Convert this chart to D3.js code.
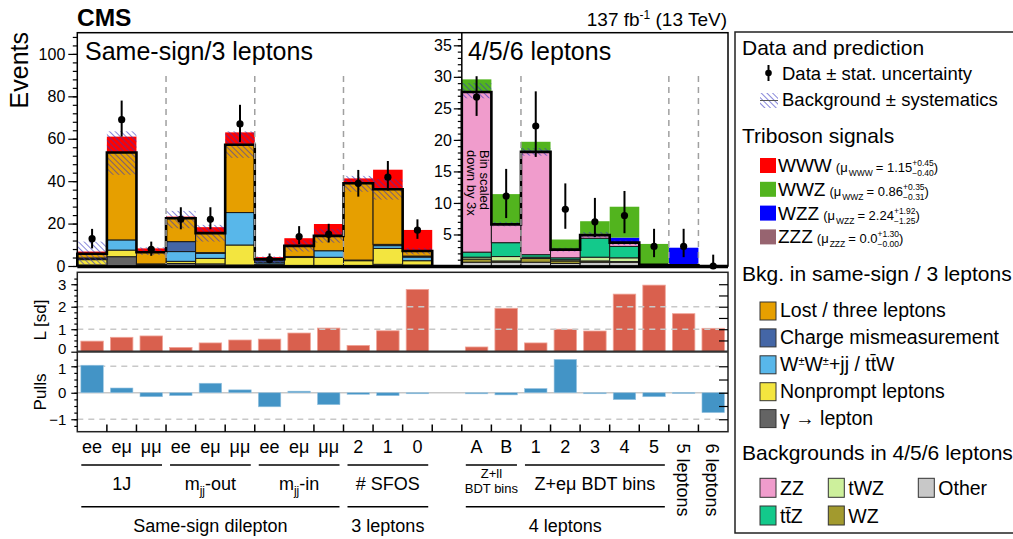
<!DOCTYPE html>
<html lang="en">
<head>
<meta charset="UTF-8" />
<title>Triboson yields</title>
<script src="https://d3js.org/d3.v7.min.js"></script>
<style>
  body { margin: 0; background: #fff; }
  svg { font-family: "Liberation Sans", Arial, Helvetica, sans-serif; }
  .tick text { fill: #000; }
  .tick line { stroke: #000; stroke-width: 1.2; }
</style>
</head>
<body>
<svg id="chart" width="1013" height="539"></svg>
<script>
// 22 bins: 12 same-sign/3l, 1 empty spacer, 9 for 4/5/6 leptons
const binLabels = ["ee","eμ","μμ","ee","eμ","μμ","ee","eμ","μμ","2","1","0","","A","B","1","2","3","4","5","",""];

// backgrounds, same-sign / 3 leptons
const gamma     = [0.5,4.4,0.2,1.2,1.0,0.5,0.5,0.3,0.3,0.3,0.8,0.5, 0, 0,0,0,0,0,0,0,0,0];
const nonprompt = [2.5,3.1,0.5,1.0,2.6,9.4,0.5,3.7,3.8,2.2,7.5,2.0, 0, 0,0,0,0,0,0,0,0,0];
const wwttw     = [0.3,4.8,0.3,4.6,2.4,15.3,0.8,0.3,3.1,0.3,1.3,1.7, 0, 0,0,0,0,0,0,0,0,0];
const chargeMis = [0.5,0,0,4.7,0.3,0,1.0,0.2,0,0,0.6,0.5, 0, 0,0,0,0,0,0,0,0,0];
const lostLep   = [2.0,41.2,5.5,11.0,9.2,32.0,0.4,5.0,7.0,36.2,26.0,2.4, 0, 0,0,0,0,0,0,0,0,0];
// backgrounds, 4/5/6 leptons
const other = [0,0,0,0,0,0,0,0,0,0,0,0, 0, 0.6,0.6,0.6,0.4,0.6,0.6,0.1,0.05,0];
const wz    = [0,0,0,0,0,0,0,0,0,0,0,0, 0, 0.5,0.2,0.6,0.4,0.2,0.1,0,0,0];
const twz   = [0,0,0,0,0,0,0,0,0,0,0,0, 0, 0.3,0.7,0.2,0.2,0.6,0.6,0,0,0];
const ttz   = [0,0,0,0,0,0,0,0,0,0,0,0, 0, 0.8,2.2,0.4,0.3,3.0,1.8,0.05,0.05,0];
const zz    = [0,0,0,0,0,0,0,0,0,0,0,0, 0, 25.4,2.9,16.3,1.3,0.5,0.6,0.05,0,0];
// signals
const zzz = [0,0,0,0,0,0,0,0,0,0,0,0, 0, 0,0,0,0,0,0,0,0,0];
const wzz = [0,0,0,0,0,0,0,0,0,0,0,0, 0, 0,0,0.2,0,0.2,0.8,0,2.8,0];
const wwz = [0,0,0,0,0,0,0,0,0,0,0,0, 0, 2.0,4.8,1.4,1.6,2.0,4.9,3.3,0,0];
const www = [1.0,7.5,1.8,0.8,2.8,5.8,1.0,3.6,5.6,2.3,9.2,9.9, 0, 0,0,0,0,0,0,0,0,0];

// background systematic band
const bandLo = [0.5,43,5.2,17.8,11.5,51,1.5,6.8,11,35,31.3,5.5, null, 26.6,6.3,17.5,2.3,4.5,3.3,0,0,0];
const bandHi = [11.5,63.5,8.8,26,19.4,63.5,4.5,12,17.5,42.5,41,8.5, null, 29.0,7.0,18.7,2.9,5.4,4.1,0.3,0.2,0];

// data with stat. errors
const dataVal = [12.9,69,7.9,22,22,67,3.0,13.9,15,39,41.9,16.9, null, 26.8,11.1,22.2,9.0,7.0,8.0,3.1,3.1,0];
const dataHi  = [17.5,78,11.5,27.7,27.7,76,5.9,18.8,19.9,45.3,49.5,22, null, 30.1,15.4,27.7,13.1,10.8,11.9,5.9,5.9,1.8];
const dataLo  = [8.3,61,4.8,17.3,17.3,58.5,1.4,10.3,11.1,32.7,35.6,12.8, null, 23.8,7.6,17.3,5.9,4.6,5.2,1.4,1.4,0];

// local significance and pulls
const signif = [0.47,0.64,0.70,0.19,0.39,0.52,0.56,0.83,1.05,0.28,0.93,2.77, null, 0.21,1.93,0.39,1.0,0.92,2.56,2.96,1.69,1.04];
const pulls  = [1.04,0.18,-0.15,-0.11,0.36,0.11,-0.53,0.06,-0.45,-0.06,-0.11,-0.01, null, -0.04,-0.08,0.16,1.26,-0.02,-0.26,-0.15,0.01,-0.75];

const stackKeys = ["gamma","nonprompt","wwttw","chargeMis","lostLep","other","wz","twz","ttz","zz","zzz","wzz","wwz","www"];
const bkgKeys = stackKeys.slice(0, 10);
const series = {gamma, nonprompt, wwttw, chargeMis, lostLep, other, wz, twz, ttz, zz, zzz, wzz, wwz, www};
const colors = {
  gamma: "#646464", nonprompt: "#f3e53f", wwttw: "#58b7ea", chargeMis: "#4466a6", lostLep: "#e69f00",
  other: "#c8c8c8", wz: "#a29a2e", twz: "#cdf09c", ttz: "#13c98b", zz: "#f09ccc",
  zzz: "#976470", wzz: "#0000ff", wwz: "#52b41e", www: "#ff0000"
};

const svg = d3.select("#chart");
const defs = svg.append("defs");
const hatch = defs.append("pattern").attr("id", "hatch")
  .attr("patternUnits", "userSpaceOnUse").attr("width", 4).attr("height", 4)
  .attr("patternTransform", "rotate(-45)");
hatch.append("line").attr("x1", 0).attr("y1", 0).attr("x2", 0).attr("y2", 4)
  .attr("stroke", "#3535c0").attr("stroke-width", 1.6).attr("stroke-opacity", 0.75);

const left = 77.3, right = 728, split = 13;
const x = d3.scaleBand().domain(d3.range(22)).range([left, right]);
const bw = x.bandwidth();
const xMid = x(split);
const yL = d3.scaleLinear().domain([0, 110]).range([266, 32.7]);
const yR = d3.scaleLinear().domain([0, 37]).range([266, 32.7]);
const yS = d3.scaleLinear().domain([0, 3.53]).range([351.7, 272.3]);
const yP = d3.scaleLinear().domain([-1.47, 1.55]).range([431.7, 351.7]);
const yOf = i => i < split ? yL : yR;
const edge = i => i < 22 ? x(i) : right;

// ---- top panels: stacks ----
const rows = d3.range(22).map(i => {
  const r = {};
  stackKeys.forEach(k => r[k] = series[k][i]);
  return r;
});
const stacked = d3.stack().keys(stackKeys)(rows);
const gStack = svg.append("g");
stacked.forEach(s => {
  const isBkg = bkgKeys.includes(s.key);
  s.forEach((d, i) => {
    if (d[1] - d[0] <= 0) return;
    const y = yOf(i);
    gStack.append("rect")
      .attr("x", x(i)).attr("width", bw)
      .attr("y", y(d[1])).attr("height", y(d[0]) - y(d[1]))
      .attr("fill", colors[s.key])
      .attr("stroke", isBkg ? "#1a1a1a" : "none")
      .attr("stroke-width", 1);
  });
});

// systematic band
d3.range(22).forEach(i => {
  if (bandLo[i] == null || bandHi[i] - bandLo[i] <= 0) return;
  const y = yOf(i);
  svg.append("rect").attr("x", x(i)).attr("width", bw)
    .attr("y", y(bandHi[i])).attr("height", y(bandLo[i]) - y(bandHi[i]))
    .attr("fill", "url(#hatch)");
});

// total background outline
const bkgTotal = d3.range(22).map(i => d3.sum(bkgKeys, k => series[k][i]));
[[0, split], [split, 22]].forEach(([a, b]) => {
  const y = yOf(a);
  const p = d3.path();
  p.moveTo(edge(a), y(0));
  for (let i = a; i < b; i++) {
    p.lineTo(edge(i), y(bkgTotal[i]));
    p.lineTo(edge(i + 1), y(bkgTotal[i]));
  }
  p.lineTo(edge(b), y(0));
  svg.append("path").attr("d", p.toString()).attr("fill", "none")
    .attr("stroke", "#000").attr("stroke-width", 2.6);
});

// category separators
[3, 6, 9, 15, 20, 21].forEach(i => {
  svg.append("line").attr("x1", x(i)).attr("x2", x(i)).attr("y1", 76).attr("y2", 264)
    .attr("stroke", "#a0a0a0").attr("stroke-width", 1.5).attr("stroke-dasharray", "6,5");
});

// data points
d3.range(22).forEach(i => {
  if (dataVal[i] == null) return;
  const y = yOf(i), cx = x(i) + bw / 2;
  svg.append("line").attr("x1", cx).attr("x2", cx)
    .attr("y1", y(dataHi[i])).attr("y2", y(dataLo[i]))
    .attr("stroke", "#000").attr("stroke-width", 2);
  svg.append("circle").attr("cx", cx).attr("cy", y(dataVal[i])).attr("r", 3.6).attr("fill", "#000");
});

// frames and axes, top
svg.append("rect").attr("x", left).attr("y", 32.7).attr("width", right - left).attr("height", 266 - 32.7)
  .attr("fill", "none").attr("stroke", "#000").attr("stroke-width", 1.5);
svg.append("line").attr("x1", xMid).attr("x2", xMid).attr("y1", 32.7).attr("y2", 266)
  .attr("stroke", "#000").attr("stroke-width", 1.5);
svg.append("line").attr("x1", left).attr("x2", right).attr("y1", 267).attr("y2", 267)
  .attr("stroke", "#000").attr("stroke-width", 2.5);

function axis(g, a) { g.call(a); g.select(".domain").remove(); return g; }
const intFmt = d3.format("d");
axis(svg.append("g").attr("transform", `translate(${left},0)`),
  d3.axisLeft(yL).tickValues(d3.range(0, 101, 20)).tickSize(9).tickPadding(3).tickFormat(intFmt))
  .selectAll("text").style("font-size", "16px");
axis(svg.append("g").attr("transform", `translate(${left},0)`),
  d3.axisLeft(yL).tickValues(d3.range(0, 110, 4)).tickSize(4.5).tickFormat(""));
axis(svg.append("g").attr("transform", `translate(${xMid},0)`),
  d3.axisLeft(yR).tickValues(d3.range(5, 36, 5)).tickSize(8).tickPadding(2).tickFormat(intFmt))
  .selectAll("text").style("font-size", "16px");
axis(svg.append("g").attr("transform", `translate(${xMid},0)`),
  d3.axisLeft(yR).tickValues(d3.range(1, 37, 1)).tickSize(4).tickFormat(""));

// ---- lower panels ----
const barW = bw * 0.76;
d3.range(22).forEach(i => {
  if (signif[i] == null) return;
  svg.append("rect").attr("x", x(i) + (bw - barW) / 2).attr("width", barW)
    .attr("y", yS(signif[i])).attr("height", yS(0) - yS(signif[i]))
    .attr("fill", "#d9604e").attr("stroke", "#f0a498").attr("stroke-width", 0.8);
});
[1, 2].forEach(v => svg.append("line").attr("x1", left).attr("x2", right - 9)
  .attr("y1", yS(v)).attr("y2", yS(v)).attr("stroke", "#c8c8c8").attr("stroke-width", 1.5).attr("stroke-dasharray", "6,5"));
[-1, 1].forEach(v => svg.append("line").attr("x1", left).attr("x2", right - 9)
  .attr("y1", yP(v)).attr("y2", yP(v)).attr("stroke", "#c8c8c8").attr("stroke-width", 1.5).attr("stroke-dasharray", "6,5"));
svg.append("line").attr("x1", left).attr("x2", right).attr("y1", yP(0)).attr("y2", yP(0))
  .attr("stroke", "#c8c8c8").attr("stroke-width", 1.5);
d3.range(22).forEach(i => {
  if (pulls[i] == null) return;
  const y0 = yP(Math.max(0, pulls[i])), y1 = yP(Math.min(0, pulls[i]));
  svg.append("rect").attr("x", x(i) + (bw - barW) / 2).attr("width", barW)
    .attr("y", y0).attr("height", Math.max(1, y1 - y0))
    .attr("fill", "#4394c6").attr("stroke", "#9cc6e2").attr("stroke-width", 0.6);
});
svg.append("rect").attr("x", left).attr("y", 272.3).attr("width", right - left).attr("height", 431.7 - 272.3)
  .attr("fill", "none").attr("stroke", "#222").attr("stroke-width", 1.5);
svg.append("line").attr("x1", left).attr("x2", right).attr("y1", 351.7).attr("y2", 351.7)
  .attr("stroke", "#333").attr("stroke-width", 2.2);

const gS = axis(svg.append("g").attr("transform", `translate(${left},0)`),
  d3.axisLeft(yS).tickValues([0, 1, 2, 3]).tickSize(6).tickPadding(5).tickFormat(intFmt));
gS.selectAll("text").style("font-size", "15px");
gS.selectAll(".tick").filter(d => d === 0).select("text").attr("dy", "0.12em");
axis(svg.append("g").attr("transform", `translate(${left},0)`),
  d3.axisLeft(yS).tickValues(d3.range(0.25, 3.5, 0.25)).tickSize(3).tickFormat(""));
const gP = axis(svg.append("g").attr("transform", `translate(${left},0)`),
  d3.axisLeft(yP).tickValues([-1, 0, 1]).tickSize(6).tickPadding(5).tickFormat(intFmt));
gP.selectAll("text").style("font-size", "15px");
gP.selectAll(".tick").filter(d => d === 1).select("text").attr("dy", "0.5em");
axis(svg.append("g").attr("transform", `translate(${left},0)`),
  d3.axisLeft(yP).tickValues(d3.range(-1.25, 1.5, 0.25)).tickSize(3).tickFormat(""));
axis(svg.append("g").attr("transform", `translate(${right},0)`),
  d3.axisRight(yS).tickValues(d3.range(0.5, 3.5, 0.5)).tickSize(-9).tickFormat(""));
axis(svg.append("g").attr("transform", `translate(${right},0)`),
  d3.axisRight(yP).tickValues(d3.range(-1, 1.5, 0.5)).tickSize(-9).tickFormat(""));
d3.range(1, 22).forEach(i => svg.append("line").attr("x1", x(i)).attr("x2", x(i))
  .attr("y1", 431.7).attr("y2", 424.5).attr("stroke", "#000").attr("stroke-width", 1.5));

// ---- texts ----
const T = (x0, y0, s, size, anchor) => svg.append("text").attr("x", x0).attr("y", y0)
  .attr("text-anchor", anchor || "start").style("font-size", size + "px").text(s);

T(77, 26, "CMS", 24.5).style("font-weight", "bold");
const lumi = T(727, 26, "137 fb", 19, "end");
lumi.append("tspan").attr("dy", -7).style("font-size", "12px").text("-1");
lumi.append("tspan").attr("dy", 7).text(" (13 TeV)");
T(85, 60, "Same-sign/3 leptons", 25);
T(468, 60, "4/5/6 leptons", 25);
svg.append("text").attr("transform", "translate(28,32) rotate(-90)").attr("text-anchor", "end")
  .style("font-size", "25px").text("Events");
svg.append("text").attr("transform", "translate(46,320) rotate(-90)").attr("text-anchor", "middle")
  .style("font-size", "17px").text("L [sd]");
svg.append("text").attr("transform", "translate(46,392) rotate(-90)").attr("text-anchor", "middle")
  .style("font-size", "17px").text("Pulls");
svg.append("text").attr("transform", `translate(${x(13) + 5},150) rotate(90)`)
  .style("font-size", "13px").text("down by 3x");
svg.append("text").attr("transform", `translate(${x(13) + 18},150) rotate(90)`)
  .style("font-size", "13px").text("Bin scaled");

binLabels.forEach((s, i) => { if (s) T(x(i) + bw / 2, 453, s, 18, "middle"); });
svg.append("text").attr("transform", `translate(${x(20) + 8},480) rotate(90)`).attr("text-anchor", "middle")
  .style("font-size", "18px").text("5 leptons");
svg.append("text").attr("transform", `translate(${x(21) + 8},480) rotate(90)`).attr("text-anchor", "middle")
  .style("font-size", "18px").text("6 leptons");

const groups = [
  {a: 0, b: 3, y: 465, label: "1J"}, {a: 3, b: 6, y: 465, label: "m|jj|-out"},
  {a: 6, b: 9, y: 465, label: "m|jj|-in"}, {a: 9, b: 12, y: 465, label: "# SFOS"},
  {a: 15, b: 20, y: 465, label: "Z+eμ BDT bins"},
  {a: 0, b: 9, y: 506.7, label: "Same-sign dilepton"}, {a: 9, b: 12, y: 506.7, label: "3 leptons"},
  {a: 13, b: 20, y: 506.7, label: "4 leptons"}, {a: 13, b: 15, y: 465, label: ""}
];
groups.forEach(g => {
  const x0 = x(g.a) + 4, x1 = edge(g.b) - 4, cx = (x0 + x1) / 2;
  svg.append("line").attr("x1", x0).attr("x2", x1).attr("y1", g.y).attr("y2", g.y)
    .attr("stroke", "#000").attr("stroke-width", 1.5);
  if (!g.label) return;
  const parts = g.label.split("|");
  const t = T(cx, g.y + 25, parts[0], 18, "middle");
  if (parts.length > 1) {
    t.append("tspan").attr("dy", 5).style("font-size", "12px").text(parts[1]);
    t.append("tspan").attr("dy", -5).text(parts[2]);
  }
});
T(x(13) + bw, 478, "Z+ll", 13, "middle");
T(x(13) + bw, 493, "BDT bins", 13, "middle");

// ---- legend ----
svg.append("rect").attr("x", 735).attr("y", 32).attr("width", 290).attr("height", 501)
  .attr("fill", "none").attr("stroke", "#222").attr("stroke-width", 1.5);
T(742, 55, "Data and prediction", 21);
svg.append("line").attr("x1", 768.5).attr("x2", 768.5).attr("y1", 65).attr("y2", 81)
  .attr("stroke", "#000").attr("stroke-width", 2);
svg.append("circle").attr("cx", 768.5).attr("cy", 73).attr("r", 3.3).attr("fill", "#000");
T(782, 80, "Data ± stat. uncertainty", 18.5);
svg.append("rect").attr("x", 760).attr("y", 93).attr("width", 18).attr("height", 15).attr("fill", "url(#hatch)");
svg.append("line").attr("x1", 760).attr("x2", 778).attr("y1", 100.5).attr("y2", 100.5)
  .attr("stroke", "#555").attr("stroke-width", 1);
T(782, 106, "Background ± systematics", 18.5);

T(742, 143, "Triboson signals", 21);
const sigNames = ["WWW", "WWZ", "WZZ", "ZZZ"];
const sigKeys = ["www", "wwz", "wzz", "zzz"];
const sigMu = ["1.15", "0.86", "2.24", "0.0"];
const sigUp = ["+0.45", "+0.35", "+1.92", "+1.30"];
const sigDn = ["−0.40", "−0.31", "−1.25", "−0.00"];
sigNames.forEach((n, i) => {
  const top = 158 + i * 23.8, base = top + 14;
  svg.append("rect").attr("x", 760).attr("y", top).attr("width", 16).attr("height", 15).attr("fill", colors[sigKeys[i]]);
  let cx = 778;
  const t1 = T(cx, base, n, 19); cx += t1.node().getComputedTextLength() + 4;
  const t2 = T(cx, base, "(μ", 13); cx += t2.node().getComputedTextLength() + 1;
  const t3 = T(cx, base + 4, n, 8.5); cx += t3.node().getComputedTextLength() + 3;
  const t4 = T(cx, base, "= " + sigMu[i], 13); cx += t4.node().getComputedTextLength();
  const t5 = T(cx, base - 6, sigUp[i], 8.5);
  const t6 = T(cx, base + 4, sigDn[i], 8.5);
  cx += Math.max(t5.node().getComputedTextLength(), t6.node().getComputedTextLength());
  T(cx, base, ")", 13);
});

T(742, 281, "Bkg. in same-sign / 3 leptons", 21);
const ssNames = ["Lost / three leptons", "Charge mismeasurement", "W±W±+jj / tt̄W", "Nonprompt leptons", "γ → lepton"];
const ssKeys = ["lostLep", "chargeMis", "wwttw", "nonprompt", "gamma"];
ssNames.forEach((n, i) => {
  const top = 302 + i * 26.9;
  svg.append("rect").attr("x", 760).attr("y", top).attr("width", 16).attr("height", 18)
    .attr("fill", colors[ssKeys[i]]).attr("stroke", "#333").attr("stroke-width", 1);
  if (i === 2) {
    const t = T(780, top + 15, "W", 19.5);
    t.append("tspan").attr("dy", -6).style("font-size", "11px").text("±");
    t.append("tspan").attr("dy", 6).text("W");
    t.append("tspan").attr("dy", -6).style("font-size", "11px").text("±");
    t.append("tspan").attr("dy", 6).text("+jj / tt̄W");
  } else {
    T(780, top + 15, n, 19.5);
  }
});

T(742, 460, "Backgrounds in 4/5/6 leptons", 21);
const fourNames = ["ZZ", "tWZ", "Other", "tt̄Z", "WZ"];
const fourKeys = ["zz", "twz", "other", "ttz", "wz"];
const fourX = [760, 828.3, 918.3, 760, 828.3];
const fourY = [478.3, 478.3, 478.3, 506, 506];
fourNames.forEach((n, i) => {
  svg.append("rect").attr("x", fourX[i]).attr("y", fourY[i]).attr("width", 16).attr("height", 19)
    .attr("fill", colors[fourKeys[i]]).attr("stroke", "#333").attr("stroke-width", 1);
  T(fourX[i] + 20, fourY[i] + 17, n, 19.5);
});
</script>
</body>
</html>
